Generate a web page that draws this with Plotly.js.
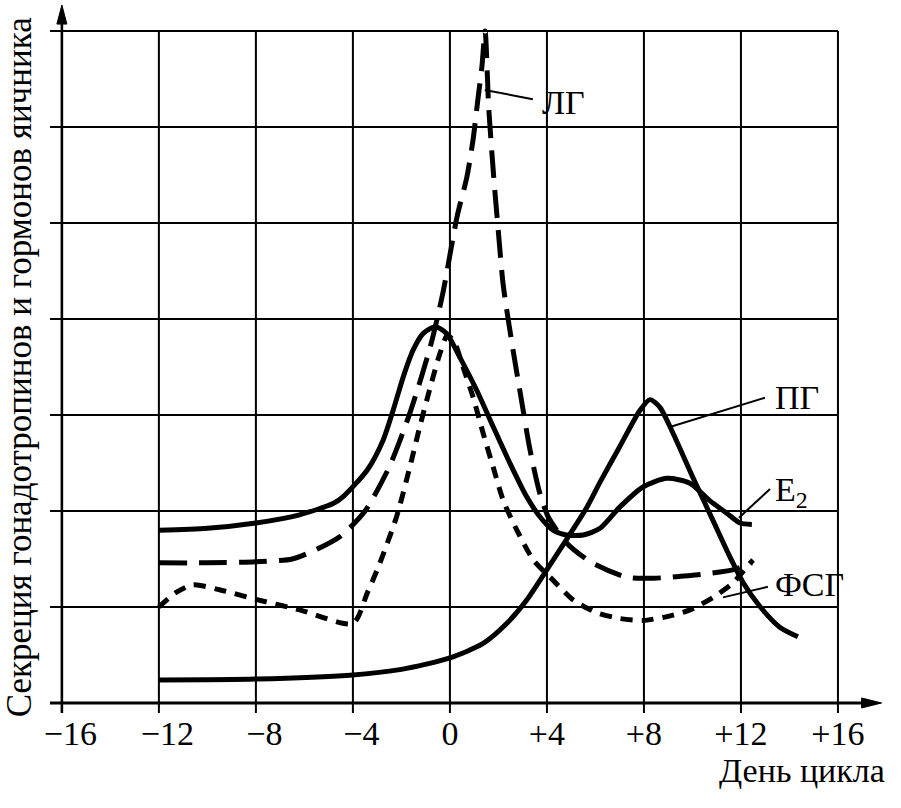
<!DOCTYPE html>
<html>
<head>
<meta charset="utf-8">
<script src="https://cdn.plot.ly/plotly-3.0.1.min.js"></script>
<style>html,body{margin:0;padding:0;background:#fff;}#chart{width:901px;height:808px;}</style>
</head>
<body>
<div id="chart"></div>
<script>
// ---- Data ----
var xTickVals = [-16, -12, -8, -4, 0, 4, 8, 12, 16];
var xTickText = ['\u2002\u221216', '\u2002\u221212', '\u2002\u22128', '\u2002\u22124', '0', '+4', '+8', '+12', '+16'];
var yGridVals = [1, 2, 3, 4, 5, 6, 7];

var lhX = [-12, -10, -8, -6.5, -5.5, -4.5, -3.5, -2.5, -1.65, -0.8, -0.29, 0.29, 0.7, 0.95, 1.15, 1.32, 1.45, 1.6, 1.8, 2.0, 2.2, 2.6, 2.9, 3.3, 3.7, 4.05, 4.8, 5.8, 7.3, 8.4, 10.0, 11.7, 12.45];
var lhY = [1.46, 1.46, 1.47, 1.5, 1.6, 1.74, 2.0, 2.46, 3.02, 3.72, 4.27, 5.06, 5.48, 5.86, 6.28, 6.63, 7.0, 6.2, 5.5, 4.9, 4.35, 3.68, 3.23, 2.64, 2.19, 1.94, 1.67, 1.47, 1.31, 1.30, 1.33, 1.39, 1.46];

var e2X = [-12, -10, -8, -6.2, -4.8, -4.4, -3.4, -2.75, -2.34, -1.92, -1.51, -1.1, -0.6, -0.14, 0.41, 1.1, 1.78, 2.47, 3.16, 3.71, 4.25, 4.8, 5.5, 6.19, 7.0, 7.96, 8.95, 9.9, 10.7, 11.4, 11.96, 12.45];
var e2Y = [1.80, 1.82, 1.875, 1.96, 2.08, 2.15, 2.43, 2.74, 3.05, 3.4, 3.68, 3.85, 3.92, 3.85, 3.6, 3.26, 2.88, 2.5, 2.15, 1.94, 1.8, 1.75, 1.75, 1.82, 2.04, 2.25, 2.34, 2.29, 2.11, 1.98, 1.875, 1.86];

var fshX = [-12, -11.3, -10.6, -9.5, -8, -6.2, -4.0, -3.4, -2.9, -2.2, -1.65, -1.24, -0.8, -0.4, -0.1, 0.2, 0.54, 0.95, 1.37, 1.78, 2.2, 2.76, 3.44, 4.25, 5.1, 6.06, 7.0, 7.96, 8.95, 9.9, 10.85, 11.67, 12.25, 12.5];
var fshY = [1.0, 1.15, 1.23, 1.18, 1.08, 0.97, 0.83, 1.15, 1.45, 1.94, 2.46, 2.88, 3.3, 3.65, 3.83, 3.75, 3.5, 3.19, 2.81, 2.46, 2.11, 1.8, 1.49, 1.28, 1.07, 0.94, 0.88, 0.86, 0.9, 0.97, 1.1, 1.25, 1.42, 1.49];

var pgX = [-12, -8, -4.12, -2, 0, 1.37, 2.35, 3.16, 4.0, 4.8, 5.65, 6.19, 7.0, 7.84, 8.25, 8.66, 9.2, 10.0, 10.85, 11.55, 12.1, 12.8, 13.6, 14.35];
var pgY = [0.24, 0.25, 0.29, 0.35, 0.47, 0.62, 0.83, 1.07, 1.39, 1.70, 2.04, 2.3, 2.67, 3.05, 3.16, 3.08, 2.81, 2.36, 1.9, 1.52, 1.25, 1.0, 0.79, 0.69];

var curveLabels = ['\u041b\u0413', '\u041f\u0413', 'E<sub>2</sub>', '\u0424\u0421\u0413'];

// ---- Layout / styling ----
var FONT = '"Liberation Serif", "DejaVu Serif", serif';
var LW = 5;
function curve(x, y, dash) {
  return {x: x, y: y, type: 'scatter', mode: 'lines', hoverinfo: 'skip',
          line: {color: '#000', width: LW, shape: 'spline', smoothing: 0.7, dash: dash}};
}
var traces = [
  curve(lhX, lhY, '28px,12px'),
  curve(e2X, e2Y, 'solid'),
  curve(fshX, fshY, '12px,9px'),
  curve(pgX, pgY, 'solid')
];

var X_LEFT = -16.49, X_RIGHT = 17.94;
var shapes = [];
// vertical grid lines (with ticks below the axis)
xTickVals.forEach(function(v) {
  if (v === -16) return;
  shapes.push({type: 'line', xref: 'x', yref: 'y', x0: v, x1: v, y0: -0.104, y1: 7, line: {color: '#000', width: 2}});
});
// horizontal grid lines
yGridVals.forEach(function(v) {
  shapes.push({type: 'line', xref: 'x', yref: 'y', x0: X_LEFT, x1: 16, y0: v, y1: v, line: {color: '#000', width: 2}});
});
// y axis
shapes.push({type: 'line', xref: 'x', yref: 'y', x0: -16, x1: -16, y0: -0.104, y1: 7.1, line: {color: '#000', width: 2.6}});
shapes.push({type: 'path', xref: 'x', yref: 'y', xsizemode: 'pixel', ysizemode: 'pixel', xanchor: -16, yanchor: 7.27,
             path: 'M0,0 L-5,-19 L5,-19 Z', fillcolor: '#000', line: {color: '#000', width: 1}});
// x axis
shapes.push({type: 'line', xref: 'x', yref: 'y', x0: X_LEFT, x1: 17.05, y0: 0, y1: 0, line: {color: '#000', width: 3}});
shapes.push({type: 'path', xref: 'x', yref: 'y', xsizemode: 'pixel', ysizemode: 'pixel', xanchor: 17.8, yanchor: 0,
             path: 'M0,0 L-20,5 L-20,-5 Z', fillcolor: '#000', line: {color: '#000', width: 1}});
// leader lines for labels
var leaders = [
  [1.44, 6.385, 3.42, 6.29],
  [9.07, 2.875, 12.99, 3.18],
  [11.92, 1.93, 13.2, 2.23],
  [11.26, 1.10, 13.11, 1.21]
];
leaders.forEach(function(l) {
  shapes.push({type: 'line', xref: 'x', yref: 'y', x0: l[0], y0: l[1], x1: l[2], y1: l[3], line: {color: '#000', width: 2}});
});

var labelPos = [[3.71, 6.25], [13.32, 3.18], [13.32, 2.2], [13.32, 1.23]];
var annotations = curveLabels.map(function(t, i) {
  return {text: t, x: labelPos[i][0], y: labelPos[i][1], xref: 'x', yref: 'y', xanchor: 'left', yanchor: 'middle',
          showarrow: false, font: {family: FONT, size: 34, color: '#000'}};
});
annotations.push({text: '\u0414\u0435\u043d\u044c \u0446\u0438\u043a\u043b\u0430', xref: 'paper', yref: 'paper',
  x: 1.0024, y: -0.0755, xanchor: 'right', yanchor: 'middle', showarrow: false,
  font: {family: FONT, size: 34, color: '#000'}});
annotations.push({text: '\u0421\u0435\u043a\u0440\u0435\u0446\u0438\u044f \u0433\u043e\u043d\u0430\u0434\u043e\u0442\u0440\u043e\u043f\u0438\u043d\u043e\u0432 \u0438 \u0433\u043e\u0440\u043c\u043e\u043d\u043e\u0432 \u044f\u0438\u0447\u043d\u0438\u043a\u0430',
  xref: 'paper', yref: 'paper', x: -0.0365, y: 0.4885, xanchor: 'center', yanchor: 'middle', textangle: -90,
  showarrow: false, font: {family: FONT, size: 35, color: '#000'}});

var layout = {
  width: 901, height: 808,
  margin: {l: 50, r: 16, t: 2, b: 91},
  paper_bgcolor: '#fff', plot_bgcolor: '#fff',
  showlegend: false,
  xaxis: {range: [X_LEFT, X_RIGHT], showgrid: false, zeroline: false, showline: false, ticks: '',
          ticklabelstandoff: -7,
          tickvals: xTickVals, ticktext: xTickText, tickfont: {family: FONT, size: 34, color: '#000'}},
  yaxis: {range: [-0.146, 7.302], showgrid: false, zeroline: false, showline: false, ticks: '', showticklabels: false},
  shapes: shapes,
  annotations: annotations
};

Plotly.newPlot('chart', traces, layout, {staticPlot: true, displayModeBar: false});
</script>
</body>
</html>
